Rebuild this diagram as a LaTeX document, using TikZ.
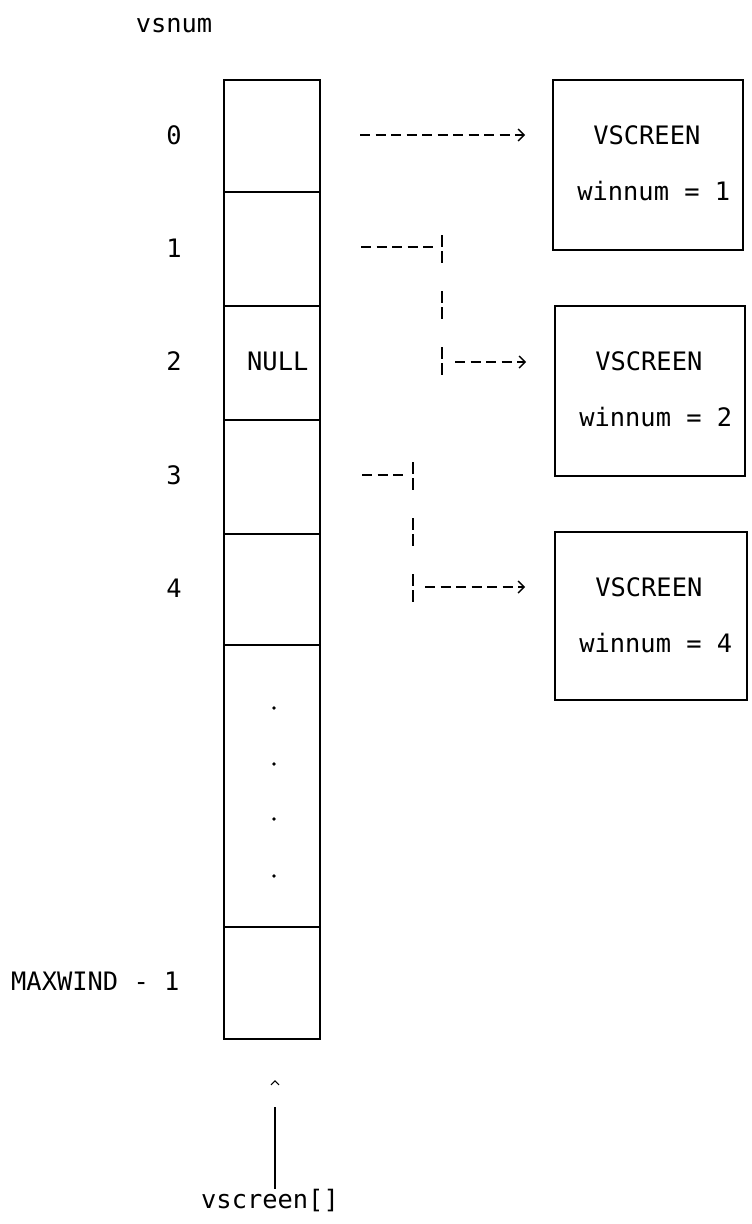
\documentclass[tikz,border=0pt]{standalone}
\usepackage{fontspec}
\newfontfamily\plotfont{DejaVu Sans Mono}
\usetikzlibrary{arrows.meta,calc}

\tikzset{
  cell/.style={draw, line width=1.8pt, minimum width=96pt, inner sep=0pt},
  vbox/.style={draw, line width=1.8pt, inner sep=0pt},
  txt/.style={font={\plotfont\fontsize{25.4pt}{30pt}\selectfont}, inner sep=0pt},
  dot/.style={circle, fill, inner sep=0pt, minimum size=3.6pt},
  hdash/.style={line width=1.4pt, dash pattern=on 10pt off 5.5pt},
  vdash/.style={line width=1.4pt, dash pattern=on 12pt off 4pt on 12pt off 28pt},
  tip/.style={-{Straight Barb[length=6pt,width=12pt,line width=1.4pt]}}
}

\begin{document}
\begin{tikzpicture}[x=1pt,y=-1pt]
\useasboundingbox (0,0) rectangle (752,1224);

% the vscreen[] array
\node[cell, minimum height=112pt] (c0) at (272.3,136) {};
\node[cell, minimum height=114pt] (c1) at (272.3,249) {};
\node[cell, minimum height=114pt] (c2) at (272.3,363) {};
\node[cell, minimum height=114pt] (c3) at (272.3,477) {};
\node[cell, minimum height=111pt] (c4) at (272.3,589.5) {};
\node[cell, minimum height=282pt] (c5) at (272.3,786) {};
\node[cell, minimum height=112pt] (c6) at (272.3,983) {};

\node[txt, anchor=base west] (null) at (247,370) {NULL};
\foreach \y [count=\i] in {708,764,819,876}
  \node[dot] (d\i) at (274,\y) {};

% index labels
\node[txt, anchor=base] (vsnum) at (174,32) {vsnum};
\node[txt, anchor=base] (i0) at (174,144) {0};
\node[txt, anchor=base] (i1) at (174,257) {1};
\node[txt, anchor=base] (i2) at (174,370) {2};
\node[txt, anchor=base] (i3) at (174,484) {3};
\node[txt, anchor=base] (i4) at (174,597) {4};
\node[txt, anchor=base west] (imax) at (11,990) {MAXWIND - 1};

% VSCREEN structures
\node[vbox, minimum width=190pt, minimum height=170pt] (b1) at (648,165) {};
\node[vbox, minimum width=190pt, minimum height=170pt] (b2) at (650,391) {};
\node[vbox, minimum width=192pt, minimum height=168pt] (b4) at (651,616) {};
\foreach \b/\n in {b1/1, b2/2, b4/4} {
  \node[txt, anchor=base west] (\b-name) at ($(\b.north west)+(41,65)$) {VSCREEN};
  \node[txt, anchor=base west] (\b-num) at ($(\b.north west)+(25,121)$) {winnum = \n};
}

% pointer from slot 0
\coordinate (s0) at (360,135);
\draw[hdash, tip] (s0) -- ($(s0 -| b1.west)+(-27,0)$);

% pointer from slot 1
\coordinate (s1) at (361,247);
\coordinate (k1a) at (442,235);
\coordinate (k1b) at (442,377);
\coordinate (e1) at (455,362);
\draw[hdash] (s1) -- ($(s1 -| k1a)+(-5,0)$);
\draw[vdash] (k1a) -- (k1b);
\draw[hdash, tip] (e1) -- ($(e1 -| b2.west)+(-28,0)$);

% pointer from slot 3
\coordinate (s3) at (362,475);
\coordinate (k3a) at (413,462);
\coordinate (k3b) at (413,603);
\coordinate (e3) at (425,587);
\draw[hdash] (s3) -- ($(s3 -| k3a)+(-6,0)$);
\draw[vdash] (k3a) -- (k3b);
\draw[hdash, tip] (e3) -- ($(e3 -| b4.west)+(-29,0)$);

% array name pointing up at the array
\node[txt, anchor=base west] (vname) at (201,1208) {vscreen[]};
\coordinate (aim) at (275,1080);
\draw[line width=1.4pt, dash pattern=on 82pt off 60pt,
      -{Straight Barb[length=4pt,width=8pt,line width=1.2pt]}]
  (aim |- vname.north) -- (aim);
\end{tikzpicture}
\end{document}
